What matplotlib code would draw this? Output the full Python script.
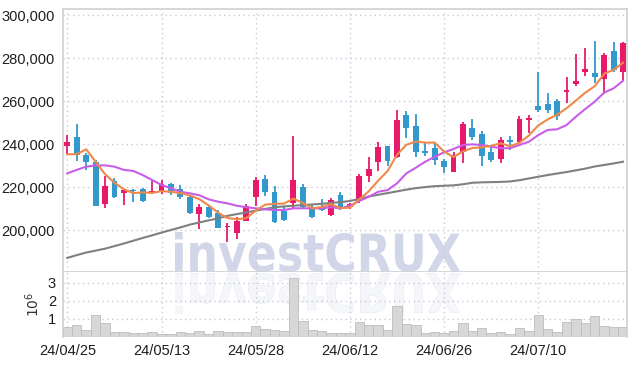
import numpy as np
import matplotlib
matplotlib.use("Agg")
import matplotlib.pyplot as plt
from matplotlib.textpath import TextPath
from matplotlib.patches import PathPatch, Rectangle
from matplotlib.font_manager import FontProperties
from matplotlib.transforms import Affine2D, IdentityTransform

plt.rcParams['font.family'] = ['Liberation Sans', 'DejaVu Sans']

# trading days (yy/mm/dd)
dates = ['24/04/25', '24/04/26', '24/04/29', '24/04/30', '24/05/02', '24/05/03', '24/05/07', '24/05/08', '24/05/09', '24/05/10',
         '24/05/13', '24/05/14', '24/05/16', '24/05/17', '24/05/20', '24/05/21', '24/05/22', '24/05/23', '24/05/24', '24/05/27',
         '24/05/28', '24/05/29', '24/05/30', '24/05/31', '24/06/03', '24/06/04', '24/06/05', '24/06/07', '24/06/10', '24/06/11',
         '24/06/12', '24/06/13', '24/06/14', '24/06/17', '24/06/18', '24/06/19', '24/06/20', '24/06/21', '24/06/24', '24/06/25',
         '24/06/26', '24/06/27', '24/06/28', '24/07/01', '24/07/02', '24/07/03', '24/07/04', '24/07/05', '24/07/08', '24/07/09',
         '24/07/10', '24/07/11', '24/07/12', '24/07/15', '24/07/16', '24/07/17', '24/07/18', '24/07/19', '24/07/22', '24/07/23']

# prices in thousands of won
opens = [239.3, 243.5, 234.9, 231.8, 212.0, 222.8, 217.1, 218.6, 219.0, 217.4,
         218.0, 221.4, 219.0, 215.2, 207.3, 210.6, 208.1, 201.3, 198.5, 204.3,
         215.5, 223.8, 217.8, 209.0, 212.7, 219.9, 210.6, 210.6, 207.0, 216.3,
         210.6, 213.5, 225.3, 231.8, 239.1, 234.1, 253.6, 248.4, 236.8, 238.3,
         232.1, 227.2, 236.5, 247.6, 244.7, 236.5, 232.9, 241.9, 241.1, 251.2,
         257.8, 258.7, 260.1, 264.3, 267.9, 273.7, 273.3, 270.2, 283.4, 273.7]
highs = [244.4, 249.4, 235.7, 232.5, 225.2, 224.2, 219.0, 219.2, 219.5, 222.8,
         223.3, 221.8, 220.8, 216.4, 212.1, 211.5, 209.3, 203.4, 205.9, 212.1,
         224.8, 225.6, 220.5, 210.6, 243.8, 221.4, 212.1, 214.3, 214.8, 217.8,
         212.8, 226.0, 234.1, 241.1, 239.3, 255.9, 255.4, 253.9, 241.1, 240.4,
         233.1, 236.2, 250.2, 251.7, 246.1, 238.5, 243.5, 243.8, 253.1, 253.6,
         273.7, 264.0, 260.9, 271.4, 282.0, 284.6, 288.2, 282.5, 287.7, 287.7]
lows = [235.4, 232.1, 228.0, 211.0, 210.1, 215.0, 211.6, 213.2, 213.0, 217.0,
        216.8, 216.3, 214.3, 207.5, 200.5, 205.5, 200.8, 194.4, 196.0, 204.0,
        211.2, 215.8, 203.4, 204.0, 209.6, 209.6, 205.8, 209.0, 206.5, 209.3,
        210.0, 212.8, 222.2, 227.5, 230.0, 233.7, 242.7, 234.1, 234.6, 230.3,
        226.4, 226.8, 231.1, 241.9, 230.0, 231.8, 231.3, 237.3, 240.8, 245.3,
        255.1, 254.6, 251.2, 259.0, 267.1, 271.7, 268.6, 263.3, 273.7, 269.9]
closes = [241.0, 234.9, 231.8, 211.2, 220.5, 215.5, 218.6, 218.2, 213.6, 218.3,
          221.4, 217.1, 215.2, 208.1, 210.6, 206.2, 201.1, 201.9, 204.3, 211.2,
          223.3, 217.8, 203.9, 204.7, 223.3, 210.6, 206.2, 209.3, 214.0, 209.9,
          212.1, 225.2, 228.4, 238.8, 232.1, 251.2, 247.6, 236.2, 235.9, 232.5,
          229.5, 234.9, 249.2, 243.5, 234.6, 232.6, 241.9, 241.1, 251.6, 252.3,
          255.9, 255.9, 253.2, 265.2, 269.5, 275.0, 271.4, 281.5, 274.5, 287.0]

# moving averages (thousands)
ma5 = [235.3, 235.3, 237.6, 231.8, 226.0, 222.0, 219.0, 217.2, 217.5, 217.3,
       218.1, 217.8, 217.2, 216.1, 214.4, 211.5, 208.1, 205.6, 205.0, 205.5,
       209.0, 211.8, 212.2, 212.3, 214.6, 212.6, 210.1, 210.7, 212.0, 210.2,
       210.4, 214.3, 218.0, 223.0, 227.5, 235.0, 239.7, 241.2, 240.7, 240.7,
       236.5, 234.0, 236.6, 238.2, 238.5, 239.2, 240.4, 239.0, 240.6, 244.0,
       248.7, 251.5, 253.7, 256.7, 260.3, 264.0, 267.0, 272.8, 274.6, 277.9]
ma20 = [226.4, 228.0, 229.5, 230.1, 230.1, 229.5, 228.0, 227.5, 225.6, 223.3,
        221.0, 219.4, 217.8, 217.1, 216.2, 214.3, 213.2, 212.4, 211.3, 210.6,
        210.1, 209.6, 209.3, 209.3, 210.1, 210.1, 210.1, 210.1, 210.6, 210.1,
        211.3, 213.5, 215.5, 217.8, 218.6, 221.7, 226.4, 229.0, 231.8, 234.1,
        236.2, 237.7, 239.6, 239.9, 239.6, 238.8, 238.1, 238.1, 239.6, 241.1,
        244.2, 246.6, 246.9, 248.9, 252.8, 256.4, 259.8, 264.0, 266.0, 269.5]
ma60 = [187.0, 188.3, 189.5, 190.4, 191.3, 192.5, 193.7, 195.0, 196.3, 197.5,
        198.8, 200.0, 201.2, 202.5, 203.5, 204.5, 205.4, 206.6, 207.4, 208.2,
        209.0, 209.8, 210.6, 211.0, 211.3, 211.6, 211.9, 212.2, 212.6, 213.0,
        213.5, 214.5, 215.6, 216.4, 217.2, 218.0, 218.8, 219.5, 220.0, 220.4,
        220.6, 220.8, 221.3, 222.0, 222.2, 222.3, 222.4, 222.6, 223.2, 224.0,
        224.8, 225.6, 226.3, 227.0, 227.8, 228.6, 229.6, 230.3, 231.0, 231.8]

# volume in millions of shares
volume = [0.54, 0.65, 0.37, 1.20, 0.76, 0.26, 0.26, 0.20, 0.20, 0.26,
          0.15, 0.15, 0.26, 0.22, 0.31, 0.17, 0.31, 0.28, 0.28, 0.28,
          0.61, 0.43, 0.37, 0.33, 3.26, 0.89, 0.37, 0.35, 0.20, 0.20,
          0.20, 0.81, 0.65, 0.65, 0.37, 1.72, 0.72, 0.65, 0.20, 0.28,
          0.20, 0.35, 0.76, 0.33, 0.48, 0.20, 0.28, 0.15, 0.48, 0.33,
          1.22, 0.44, 0.28, 0.85, 0.98, 0.76, 1.15, 0.59, 0.54, 0.54]

o = np.array(opens) * 1000
h = np.array(highs) * 1000
l = np.array(lows) * 1000
c = np.array(closes) * 1000
x = np.arange(len(dates))

up_col = '#e8196b'
down_col = '#3399cc'
cols = [up_col if cc >= oo else down_col for oo, cc in zip(o, c)]

fig = plt.figure(figsize=(6.37, 3.66), dpi=100)
ax = fig.add_axes([63/637, 1-272/366, 564/637, 263/366])
axv = fig.add_axes([63/637, 1-337/366, 564/637, 65/366], sharex=ax)

grid_kw = dict(color='#c9c9dc', linestyle=(0, (1, 2.5)), linewidth=1)

# candles
ax.vlines(x, l, h, colors=cols, linewidth=1.3, zorder=2)
bottoms = np.minimum(o, c)
heights = np.maximum(np.abs(c - o), 500)
ax.bar(x, heights, bottom=bottoms, width=0.62, color=cols, zorder=3)

# moving averages
ax.plot(x, np.array(ma60) * 1000, color='#808080', lw=1.5, zorder=4)
ax.plot(x, np.array(ma20) * 1000, color='#c85ee8', lw=1.5, zorder=4)
ax.plot(x, np.array(ma5) * 1000, color='#f0884a', lw=1.5, zorder=4)

ax.set_xlim(-0.46, 59.42)
ax.set_ylim(180440, 302930)
yt = np.arange(200000, 300001, 20000)
ax.set_yticks(yt)
ax.set_yticklabels(['{:,}'.format(v) for v in yt])
ax.grid(True, **grid_kw)
ax.tick_params(length=0, pad=6, labelsize=10.5, colors='#1e1e1e', labelbottom=False)

# volume
axv.bar(x, np.array(volume) * 1e6, width=1.0, color='#d7d7d7', edgecolor='#bdbdbd', linewidth=0.6, zorder=2)
axv.set_ylim(0, 3.61e6)
axv.set_yticks([1e6, 2e6, 3e6])
axv.set_yticklabels(['1', '2', '3'])
axv.set_ylabel(r'$10^6$', fontsize=10, color='#333333', labelpad=4)
axv.grid(True, **grid_kw)
tick_idx = x[::10]
axv.set_xticks(tick_idx)
axv.set_xticklabels([dates[i] for i in tick_idx])
axv.tick_params(length=0, pad=5, labelsize=10.5, colors='#1e1e1e')

for a in (ax, axv):
    for s in a.spines.values():
        s.set_color('#cfcfcf')
        s.set_linewidth(1.2)
axv.spines['bottom'].set_visible(False)
axv.spines['top'].set_visible(False)

# watermark with fading reflection
tp = TextPath((0, 0), 'investCRUX', size=50, prop=FontProperties(family='DejaVu Sans', weight='bold'))
ext = tp.get_extents()


def placed(x0, x1, y0, y1, flip=False):
    sx = (x1 - x0) / ext.width
    sy = (y1 - y0) / ext.height
    tr = Affine2D().translate(-ext.x0, -ext.y0)
    if flip:
        tr = tr.scale(sx, -sy).translate(x0, y1)
    else:
        tr = tr.scale(sx, sy).translate(x0, y0)
    return tr.transform_path(tp)


wm = PathPatch(placed(175, 460, 94, 134), transform=IdentityTransform(),
               facecolor='#d1d6e9', edgecolor='none', zorder=0.6, clip_on=False)
ax.add_artist(wm)

refl_path = placed(175, 460, 52, 93, flip=True)
fade = ['#d9dcea', '#dde0ed', '#e2e4ef', '#e7e9f2', '#eceef5', '#f1f2f7', '#f5f6f9']
band = 41 / len(fade)
for k, col in enumerate(fade):
    p = PathPatch(refl_path, transform=IdentityTransform(), facecolor=col,
                  edgecolor='none', zorder=0.6)
    clip = Rectangle((170, 93 - (k + 1) * band), 300, band + 0.3, transform=IdentityTransform())
    p.set_clip_path(clip)
    axv.add_artist(p)

fig.savefig('out.png', dpi=100)
